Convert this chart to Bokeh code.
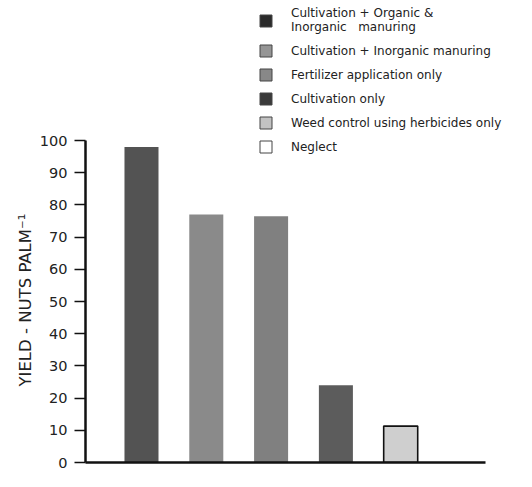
from bokeh.plotting import figure
from bokeh.models import Legend, LegendItem, FixedTicker, Range1d, Title
from bokeh.embed import file_html
from bokeh.resources import INLINE

# ---- data ----
treatments = [
    "Cultivation + Organic &\nInorganic   manuring",
    "Cultivation + Inorganic manuring",
    "Fertilizer application only",
    "Cultivation only",
    "Weed control using herbicides only",
    "Neglect",
]
yields = [98, 77, 76.5, 24, 11.3, 0]
y_ticks = [0, 10, 20, 30, 40, 50, 60, 70, 80, 90, 100]
y_label = "YIELD - NUTS PALM\u207b\u00b9"

# ---- styles ----
bar_colors = ["#535353", "#8a8a8a", "#808080", "#5c5c5c", "#cfcfcf", "#ffffff"]
bar_lines = [None, None, None, None, "#111111", None]
legend_colors = ["#2b2b2b", "#959595", "#888888", "#3a3a3a", "#c2c2c2", "#ffffff"]

xpos = [i + 1 for i in range(len(treatments))]

p = figure(width=516, height=471, output_backend="svg", toolbar_location=None,
           x_range=Range1d(0.136, 6.787), y_range=Range1d(0, 143.5),
           min_border_left=85, min_border_right=0, min_border_top=0,
           min_border_bottom=9)
p.grid.visible = False
p.outline_line_color = None
p.background_fill_color = "white"

p.vbar(x=xpos, top=yields, width=0.525, fill_color=bar_colors,
       line_color=bar_lines, line_width=1.6)

# hidden renderer that supplies the legend swatches
lg = p.vbar(x=xpos, top=yields, width=0.525, fill_color=legend_colors,
            line_color="#444444", line_width=1)
lg.visible = False
items = [LegendItem(label=lab, renderers=[lg], index=i) for i, lab in enumerate(treatments)]
leg = Legend(items=items, location=(173, 308), padding=0, margin=0, spacing=9,
             glyph_width=15, glyph_height=15, label_height=15, label_standoff=18,
             label_text_font="DejaVu Sans", label_text_font_size="12px",
             label_text_color="#222222", background_fill_alpha=0,
             border_line_color=None, inactive_fill_alpha=0)
p.add_layout(leg)

# y axis
ya = p.yaxis[0]
ya.ticker = FixedTicker(ticks=y_ticks)
ya.bounds = (0, 100)
ya.axis_line_width = 2.5
ya.axis_line_color = "#111111"
ya.major_tick_out = 11
ya.major_tick_in = 0
ya.major_tick_line_width = 1.5
ya.major_tick_line_color = "#111111"
ya.minor_tick_line_color = None
ya.major_label_standoff = 7
ya.major_label_text_font = "DejaVu Sans"
ya.major_label_text_font_size = "14.5px"
ya.major_label_text_color = "#222222"

p.add_layout(Title(text=y_label, align="left", offset=76, text_font="DejaVu Sans",
                   text_font_size="16.5px", text_font_style="normal",
                   text_color="#222222", standoff=4), "left")

# x axis (line only)
xa = p.xaxis[0]
xa.ticker = FixedTicker(ticks=[])
xa.bounds = (0.136, 6.309)
xa.axis_line_width = 2.5
xa.axis_line_color = "#111111"
xa.major_tick_out = 0
xa.major_tick_in = 0
xa.minor_tick_line_color = None
xa.major_label_text_font_size = "0px"
xa.major_label_standoff = 0

open("out.html", "w").write(file_html(p, INLINE))
